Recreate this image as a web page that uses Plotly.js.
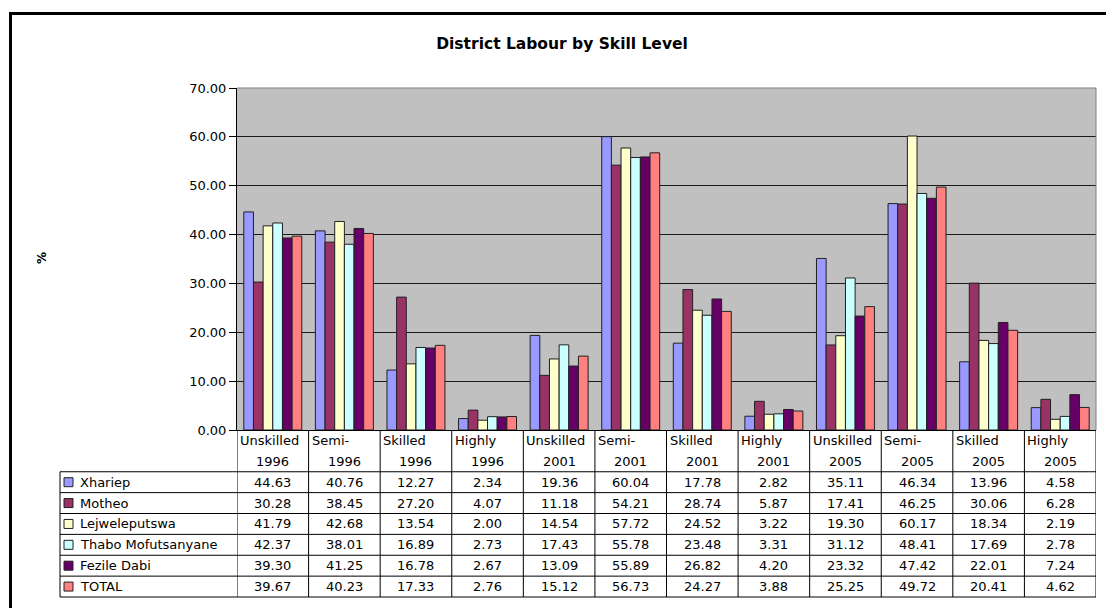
<!DOCTYPE html>
<html>
<head>
<meta charset="utf-8">
<script src="https://cdn.plot.ly/plotly-3.0.1.min.js"></script>
<style>
html,body{margin:0;padding:0;background:#fff;}
#chart{width:1106px;height:608px;}
</style>
</head>
<body>
<div id="chart"></div>
<script>
// ---- data ----
const categoryTop = ['Unskilled','Semi-','Skilled','Highly','Unskilled','Semi-','Skilled','Highly','Unskilled','Semi-','Skilled','Highly'];
const categoryBottom = ['1996','1996','1996','1996','2001','2001','2001','2001','2005','2005','2005','2005'];
const seriesNames = ['Xhariep','Motheo','Lejweleputswa','Thabo Mofutsanyane','Fezile Dabi','TOTAL'];
const xhariep   = [44.63, 40.76, 12.27, 2.34, 19.36, 60.04, 17.78, 2.82, 35.11, 46.34, 13.96, 4.58];
const motheo    = [30.28, 38.45, 27.20, 4.07, 11.18, 54.21, 28.74, 5.87, 17.41, 46.25, 30.06, 6.28];
const lejwele   = [41.79, 42.68, 13.54, 2.00, 14.54, 57.72, 24.52, 3.22, 19.30, 60.17, 18.34, 2.19];
const thabo     = [42.37, 38.01, 16.89, 2.73, 17.43, 55.78, 23.48, 3.31, 31.12, 48.41, 17.69, 2.78];
const fezile    = [39.30, 41.25, 16.78, 2.67, 13.09, 55.89, 26.82, 4.20, 23.32, 47.42, 22.01, 7.24];
const total     = [39.67, 40.23, 17.33, 2.76, 15.12, 56.73, 24.27, 3.88, 25.25, 49.72, 20.41, 4.62];
const seriesValues = [xhariep, motheo, lejwele, thabo, fezile, total];
const seriesColors = ['#9999FF','#993366','#FFFFCC','#CCFFFF','#660066','#FF8080'];
const chartTitle = 'District Labour by Skill Level';
const yTitle = '%';

// ---- layout geometry ----
const W = 1106, H = 608;
const M = {l: 237, r: 10, t: 88, b: 178};
const pw = W - M.l - M.r, ph = H - M.t - M.b;
const px = X => (X - M.l) / pw;
const py = Y => (H - M.b - Y) / ph;
const FONT = 'DejaVu Sans, Arial, sans-serif';

const cats = categoryTop.map((t, i) => t + ' ' + categoryBottom[i] + ' #' + i);

const traces = seriesNames.map((name, s) => ({
  type: 'bar',
  name: name,
  x: cats,
  y: seriesValues[s],
  marker: {color: seriesColors[s], line: {color: '#202020', width: 1}},
  hoverinfo: 'name+y'
}));

const tableTop = 430, rowH = 20.875, nRows = 8;
const tableBottom = tableTop + nRows * rowH;
const legendLeft = 60;

const shapes = [];
const annotations = [];

// plot area top/right border (grey)
shapes.push({type:'line', xref:'paper', yref:'paper', x0:0, x1:1, y0:1, y1:1, line:{color:'#808080', width:1}});
shapes.push({type:'line', xref:'paper', yref:'paper', x0:1, x1:1, y0:0, y1:1, line:{color:'#808080', width:1}});

// table vertical lines at category boundaries
for (let i = 0; i <= cats.length; i++) {
  shapes.push({type:'line', xref:'x', yref:'paper', x0:i-0.5, x1:i-0.5, y0:py(tableTop), y1:py(tableBottom), line:{color:'#000', width:1}});
}
// legend column left border
shapes.push({type:'line', xref:'paper', yref:'paper', x0:px(legendLeft), x1:px(legendLeft), y0:py(tableTop + 2*rowH), y1:py(tableBottom), line:{color:'#000', width:1}});
// horizontal lines
for (let k = 2; k <= nRows; k++) {
  const Y = tableTop + k*rowH;
  shapes.push({type:'line', xref:'paper', yref:'paper', x0:px(legendLeft), x1:1, y0:py(Y), y1:py(Y), line:{color:'#000', width:1}});
}

// header text
cats.forEach((c, i) => {
  annotations.push({xref:'x', yref:'paper', x:i-0.5, xshift:1, xanchor:'left', y:py(tableTop + 0.5*rowH), yanchor:'middle',
    text:categoryTop[i], showarrow:false, font:{family:FONT, size:13, color:'#000'}});
  annotations.push({xref:'x', yref:'paper', x:i, xanchor:'center', y:py(tableTop + 1.5*rowH), yanchor:'middle',
    text:categoryBottom[i], showarrow:false, font:{family:FONT, size:13, color:'#000'}});
});
// data cells + legend keys
seriesNames.forEach((name, s) => {
  const cy = tableTop + (2 + s + 0.5)*rowH;
  seriesValues[s].forEach((v, i) => {
    annotations.push({xref:'x', yref:'paper', x:i, xanchor:'center', y:py(cy), yanchor:'middle',
      text:v.toFixed(2), showarrow:false, font:{family:FONT, size:13, color:'#000'}});
  });
  shapes.push({type:'rect', xref:'paper', yref:'paper', x0:px(64), x1:px(73), y0:py(cy-4.5), y1:py(cy+4.5),
    fillcolor:seriesColors[s], line:{color:'#202020', width:1}});
  annotations.push({xref:'paper', yref:'paper', x:px(78), xanchor:'left', y:py(cy), yanchor:'middle',
    text:name, showarrow:false, font:{family:FONT, size:13, color:'#000'}});
});

// y axis title
annotations.push({xref:'paper', yref:'paper', x:px(42), y:py(258), xanchor:'center', yanchor:'middle', textangle:-90,
  text:'<b>' + yTitle + '</b>', showarrow:false, font:{family:FONT, size:12, color:'#000'}});

// outer frame (thick black)
shapes.push({type:'line', xref:'paper', yref:'paper', x0:px(10.5), x1:px(10.5), y0:py(12), y1:py(H+5), line:{color:'#000', width:3}});
shapes.push({type:'line', xref:'paper', yref:'paper', x0:px(9), x1:px(W+5), y0:py(13.5), y1:py(13.5), line:{color:'#000', width:3}});

const layout = {
  width: W, height: H,
  margin: M,
  paper_bgcolor: '#ffffff',
  plot_bgcolor: '#C0C0C0',
  showlegend: false,
  barmode: 'group',
  bargap: 0.19,
  bargroupgap: 0,
  title: {text: '<b>' + chartTitle + '</b>', x: 562/W, xanchor:'center', y: 1 - 44/H, yanchor:'middle',
    font:{family:'DejaVu Sans, Arial, sans-serif', size:15.5, color:'#000'}},
  xaxis: {type:'category', showticklabels:false, ticks:'', showgrid:false, showline:true, linecolor:'#000', linewidth:1,
    range:[-0.5, cats.length-0.5], fixedrange:true},
  yaxis: {range:[0,70], dtick:10, tickformat:'.2f', ticks:'outside', ticklen:7, tickcolor:'#000', tickwidth:1,
    showline:true, linecolor:'#000', linewidth:1, showgrid:true, gridcolor:'#1a1a1a', gridwidth:1, zeroline:false,
    tickfont:{family:FONT, size:13, color:'#000'}, fixedrange:true},
  shapes: shapes,
  annotations: annotations
};

Plotly.newPlot('chart', traces, layout, {displayModeBar:false, staticPlot:true});
</script>
</body>
</html>
